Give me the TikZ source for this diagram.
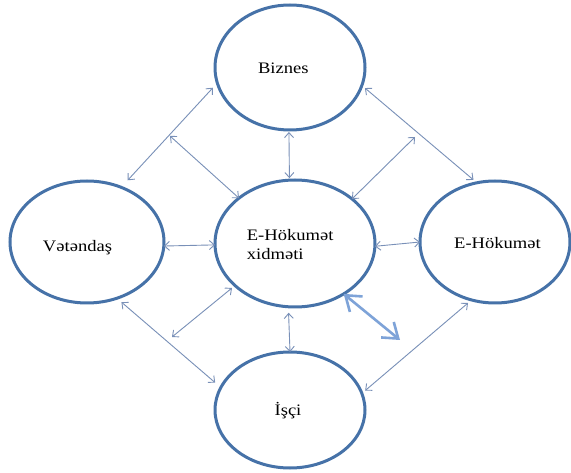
\documentclass[tikz,border=0pt]{standalone}
\usepackage{fontspec}
\setmainfont{Liberation Serif}[FakeStretch=1.16]
\usetikzlibrary{arrows.meta,shapes.geometric}
\definecolor{ringblue}{HTML}{4672A8}
\definecolor{thinblue}{HTML}{7990B8}
\definecolor{thickblue}{HTML}{7EA3D8}
\begin{document}
\begin{tikzpicture}[x=1pt,y=-1pt,
  ring/.style={draw=ringblue, line width=3pt, ellipse, inner sep=0pt, outer sep=0pt},
  lbl/.style={inner sep=0pt, font=\fontsize{16}{18.3}\selectfont},
  link/.style={draw=thinblue, line width=0.9pt,
    arrows={Straight Barb[length=5pt,width=9pt]-Straight Barb[length=5pt,width=9pt]}},
  bigarrow/.style={draw=thickblue, line width=2.6pt,
    arrows={Straight Barb[length=14pt,width=20pt]-Straight Barb[length=14pt,width=20pt]}}]
\useasboundingbox (0,0) rectangle (571,473);
\fill[white] (0,0) rectangle (571,473);

\node[ring, minimum width=150pt, minimum height=125pt] (biz) at (290,67.5) {};
\node[ring, minimum width=154pt, minimum height=122pt] (vat) at (87,242) {};
\node[ring, minimum width=160pt, minimum height=127pt] (mid) at (295,243.5) {};
\node[ring, minimum width=150pt, minimum height=122pt] (gov) at (495,242) {};
\node[ring, minimum width=150pt, minimum height=116pt] (isc) at (290,410) {};

\node[lbl, anchor=base] (bizT) at (283.3,74) {Biznes};
\node[lbl, anchor=base] (vatT) at (77.5,252) {Vətəndaş};
\node[lbl, anchor=west, align=left] (midT) at (246.7,244.4) {E-Hökumət\\xidməti};
\node[lbl, anchor=base] (govT) at (497.5,248.3) {E-Hökumət};
\node[lbl, anchor=base] (iscT) at (288,416) {İşçi};

\coordinate (j1) at (170,136);
\coordinate (j2) at (415,137);
\coordinate (j3) at (172,337);
\coordinate (j4) at (400,340);

\draw[link, shorten <=9.6pt, shorten >=6.5pt] (vat.58.7) -- (biz.192.2);
\draw[link] (j1) -- (mid.141.4);
\draw[link, shorten <=2pt, shorten >=2pt] (biz.269.1) -- (mid.95.4);
\draw[link] (j2) -- (mid.38.6);
\draw[link, shorten <=4.1pt, shorten >=4.5pt] (biz.346.1) -- (gov.107.5);
\draw[link] (vat.357.8) -- (mid.181.1);
\draw[link] (mid.358.9) -- (gov.180);
\draw[link, shorten <=6pt, shorten >=7.5pt] (vat.298.5) -- (isc.162.35);
\draw[link, shorten <=3.9pt] (mid.215) -- (j3);
\draw[link, shorten <=6pt] (mid.264.6) -- (isc.90.8);
\draw[bigarrow] (mid.314.1) -- (j4);
\draw[link, shorten <=4.35pt, shorten >=4.7pt] (isc.13.5) -- (gov.248);
\end{tikzpicture}
\end{document}
